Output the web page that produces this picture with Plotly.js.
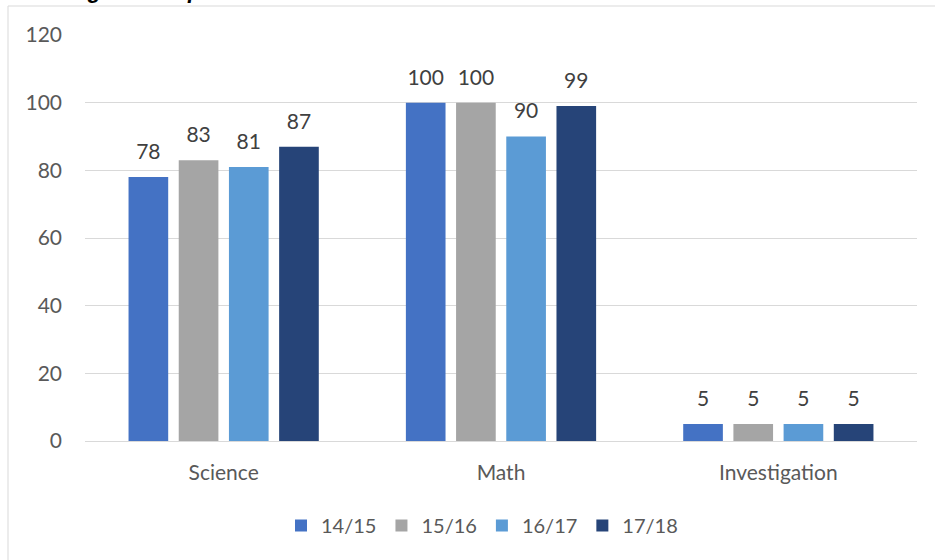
<!DOCTYPE html>
<html>
<head>
<meta charset="utf-8">
<script src="https://cdn.plot.ly/plotly-3.0.1.min.js"></script>
<style>
  html, body { margin: 0; padding: 0; background: #fff; }
  #chart { width: 935px; height: 560px; }
</style>
</head>
<body>
<div id="chart"></div>
<script>
const categories = ["Science", "Math", "Investigation"];
const seriesNames = ["14/15", "15/16", "16/17", "17/18"];
const s1415 = [78, 100, 5];
const s1516 = [83, 100, 5];
const s1617 = [81, 90, 5];
const s1718 = [87, 99, 5];
const seriesValues = [s1415, s1516, s1617, s1718];
const seriesColors = ["#4472C4", "#A5A5A5", "#5B9BD5", "#264478"];
const yTicks = [0, 20, 40, 60, 80, 100, 120];
const titleText = "Investigation Department";

const FONT = "Lato, 'Open Sans', sans-serif";
const FS = 21;
const GAP = 0.276;

const barTraces = seriesValues.map((vals, i) => ({
  type: "bar",
  name: seriesNames[i],
  x: categories,
  y: vals,
  marker: { color: seriesColors[i] },
  hoverinfo: "x+y+name"
}));

// value labels, grouped the same way as the bars
const labelTraces = seriesValues.map((vals, i) => ({
  type: "scatter",
  mode: "markers+text",
  name: seriesNames[i] + " labels",
  showlegend: false,
  x: categories,
  y: vals,
  text: vals.map(String),
  textposition: "top center",
  cliponaxis: false,
  marker: { size: 19, opacity: 0, color: seriesColors[i] },
  textfont: { family: FONT, size: FS, color: "#404040" },
  hoverinfo: "skip"
}));

const W = 935, H = 560;
const mL = 85, mR = 18, mT = 35, mB = 119;
const pw = W - mL - mR, ph = H - mT - mB;
const px = v => (v - mL) / pw;
const py = v => (H - mB - v) / ph;

const layout = {
  width: W, height: H,
  margin: { l: mL, r: mR, t: mT, b: mB, pad: 0 },
  paper_bgcolor: "#ffffff",
  plot_bgcolor: "#ffffff",
  font: { family: FONT, size: FS, color: "#595959" },
  barmode: "group",
  bargap: GAP,
  bargroupgap: 0.21,
  scattermode: "group",
  scattergap: GAP,
  showlegend: true,
  legend: {
    orientation: "h",
    x: px(482), xanchor: "center",
    y: py(545), yanchor: "bottom",
    font: { family: FONT, size: 20, color: "#595959" },
    itemwidth: 30,
    traceorder: "normal"
  },
  xaxis: {
    type: "category",
    showgrid: false,
    showline: true,
    linecolor: "#D9D9D9",
    linewidth: 1,
    ticks: "",
    ticklabelstandoff: 13,
    tickfont: { family: FONT, size: FS, color: "#595959" }
  },
  yaxis: {
    range: [0, 120],
    tickvals: yTicks,
    ticktext: yTicks.map(String),
    showgrid: true,
    gridcolor: "#D9D9D9",
    gridwidth: 1,
    zeroline: false,
    showline: false,
    ticks: "",
    ticklabelstandoff: 22,
    tickfont: { family: FONT, size: FS, color: "#595959" }
  },
  shapes: [
    { type: "line", xref: "paper", yref: "paper",
      x0: px(8), x1: px(8), y0: py(6), y1: py(560),
      line: { color: "#D9D9D9", width: 1 } },
    { type: "line", xref: "paper", yref: "paper",
      x0: px(8), x1: px(935), y0: py(6), y1: py(6),
      line: { color: "#D9D9D9", width: 1 } }
  ],
  annotations: [
    { text: "<b><i>" + titleText + "</i></b>", xref: "paper", yref: "paper",
      x: px(16), xanchor: "left", y: py(5), yanchor: "bottom",
      showarrow: false,
      font: { family: "'Liberation Sans', Arial, sans-serif", size: 22, color: "#000000" } }
  ]
};

Plotly.newPlot("chart", barTraces.concat(labelTraces), layout, { displayModeBar: false, staticPlot: true });
</script>
</body>
</html>
